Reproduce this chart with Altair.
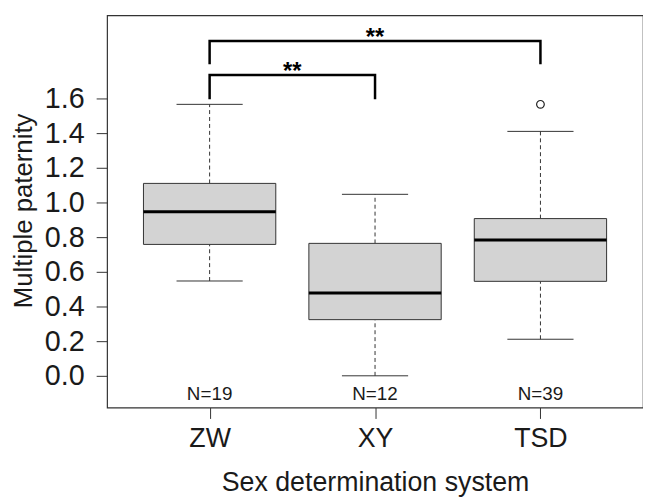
import json
import altair as alt
import pandas as pd

# ---- data ----
groups = ["ZW", "XY", "TSD"]
n_labels = ["N=19", "N=12", "N=39"]
whisker_low = [0.547, 0.0, 0.211]
q1 = [0.758, 0.324, 0.545]
median = [0.946, 0.478, 0.783]
q3 = [1.110, 0.764, 0.907]
whisker_high = [1.566, 1.047, 1.410]

outlier_group = ["TSD"]
outlier_value = [1.566]

bracket_from = ["ZW", "ZW"]
bracket_to = ["XY", "TSD"]
bracket_leg_bottom = [1.596, 1.798]
bracket_top = [1.735, 1.931]
bracket_label = ["**", "**"]

y_ticks = [0.0, 0.2, 0.4, 0.6, 0.8, 1.0, 1.2, 1.4, 1.6]
n_label_y = -0.141

# ---- tables ----
pos = {g: i + 1 for i, g in enumerate(groups)}
box_w = 0.4
cap_w = 0.2
boxes = pd.DataFrame({
    "group": groups,
    "pos": [pos[g] for g in groups],
    "lo": [pos[g] - box_w for g in groups],
    "hi": [pos[g] + box_w for g in groups],
    "clo": [pos[g] - cap_w for g in groups],
    "chi": [pos[g] + cap_w for g in groups],
    "wl": whisker_low, "q1": q1, "med": median, "q3": q3, "wh": whisker_high,
    "n": n_labels, "ny": [n_label_y] * len(groups),
})
outliers = pd.DataFrame({"pos": [pos[g] for g in outlier_group], "v": outlier_value})

rows = []
for i, (a, b) in enumerate(zip(bracket_from, bracket_to)):
    pts = [(pos[a], bracket_leg_bottom[i]), (pos[a], bracket_top[i]),
           (pos[b], bracket_top[i]), (pos[b], bracket_leg_bottom[i])]
    for k, (px, py) in enumerate(pts):
        rows.append({"b": i, "k": k, "x": px, "y": py})
brackets = pd.DataFrame(rows)
stars = pd.DataFrame({
    "x": [(pos[a] + pos[b]) / 2 for a, b in zip(bracket_from, bracket_to)],
    "y": bracket_top, "t": bracket_label,
})

# ---- scales / axes ----
FONT = "Liberation Sans"
INK = "#1a1a1a"
xscale = alt.Scale(domain=[0.38, 3.62], nice=False, zero=False)
yscale = alt.Scale(domain=[-0.183, 2.08], nice=False, zero=False)
label_expr = json.dumps(groups) + "[datum.value - 1]"
xaxis = alt.Axis(values=list(range(1, len(groups) + 1)), labelExpr=label_expr,
                 domain=False, grid=False, tickSize=11, tickColor="#333",
                 labelFontSize=27, labelFont=FONT, labelColor=INK, labelPadding=7,
                 titleFontSize=27, titleFont=FONT, titleColor=INK, titleFontWeight="normal",
                 titleY=84, titleBaseline="alphabetic")
yaxis = alt.Axis(values=y_ticks, format=".1f", domain=False, grid=False,
                 tickSize=11, tickColor="#333", labelFontSize=29, labelFont=FONT,
                 labelColor=INK, labelPadding=12, labelLimit=300, labelBaseline="middle",
                 titleFontSize=26, titleFont=FONT, titleColor=INK, titleFontWeight="normal",
                 titleAngle=270, titleX=-76, titleY=197, titleAlign="center",
                 titleBaseline="alphabetic")
XT = "Sex determination system"
YT = "Multiple paternity"


def X(f, **kw):
    return alt.X(f, type="quantitative", scale=xscale, axis=xaxis, title=XT, **kw)


def Y(f, **kw):
    return alt.Y(f, type="quantitative", scale=yscale, axis=yaxis, title=YT, **kw)


base = alt.Chart(boxes)

whisk_up = base.mark_rule(color="#333", strokeWidth=1, strokeDash=[4, 3]).encode(
    x=X("pos"), y=Y("q3"), y2="wh")
whisk_dn = base.mark_rule(color="#333", strokeWidth=1, strokeDash=[4, 3]).encode(
    x=X("pos"), y=Y("wl"), y2="q1")
cap_up = base.mark_rule(color="#333", strokeWidth=1).encode(x=X("clo"), x2="chi", y=Y("wh"))
cap_dn = base.mark_rule(color="#333", strokeWidth=1).encode(x=X("clo"), x2="chi", y=Y("wl"))
rects = base.mark_rect(fill="#d3d3d3", stroke="#333", strokeWidth=1).encode(
    x=X("lo"), x2="hi", y=Y("q1"), y2="q3")
meds = base.mark_rule(color="#000", strokeWidth=3).encode(x=X("lo"), x2="hi", y=Y("med"))
ntext = base.mark_text(font=FONT, fontSize=19, color=INK, baseline="alphabetic").encode(
    x=X("pos"), y=Y("ny"), text="n")

outl = alt.Chart(outliers).mark_point(shape="circle", filled=False, size=60,
                                      color="#222", strokeWidth=1.2, opacity=1).encode(
    x=X("pos"), y=Y("v"))

br = alt.Chart(brackets).mark_line(color="#000", strokeWidth=2.5, strokeJoin="miter").encode(
    x=X("x"), y=Y("y"), detail="b:N", order="k:Q")
st = alt.Chart(stars).mark_text(font=FONT, fontSize=24, fontWeight="bold", color="#000",
                                baseline="alphabetic", dy=4).encode(
    x=X("x"), y=Y("y"), text="t")

chart = alt.layer(whisk_up, whisk_dn, cap_up, cap_dn, rects, meds, ntext, outl, br, st).properties(
    width=541, height=396,
    background="white",
    autosize=alt.AutoSizeParams(type="none"),
    padding={"left": 100, "top": 5, "right": 0, "bottom": 88},
).configure_view(stroke="#333", strokeWidth=1.2)

chart.save("out.html", embed_options={"renderer": "svg", "actions": False})
